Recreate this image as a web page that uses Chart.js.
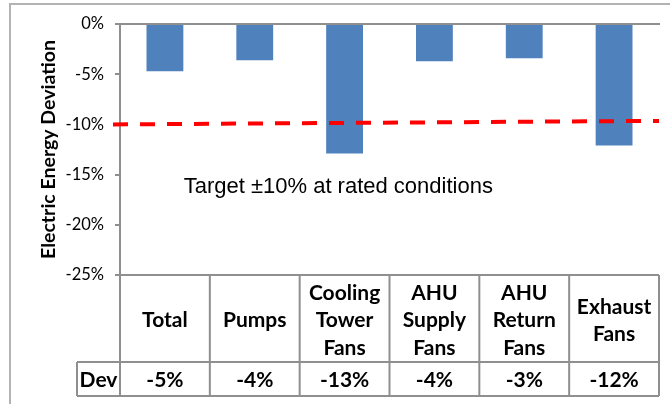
<!DOCTYPE html>
<html>
<head>
<meta charset="utf-8">
<script src="https://cdn.jsdelivr.net/npm/chart.js@4/dist/chart.umd.min.js"></script>
<style>
  html, body { margin: 0; padding: 0; background: #fff; }
  #wrap { width: 670px; height: 404px; }
</style>
</head>
<body>
<div id="wrap"><canvas id="grafico"></canvas></div>
<script>
// datos
const categorias = [['Total'], ['Pumps'], ['Cooling', 'Tower', 'Fans'], ['AHU', 'Supply', 'Fans'], ['AHU', 'Return', 'Fans'], ['Exhaust', 'Fans']];
const desviacion = [-4.7, -3.6, -12.9, -3.7, -3.4, -12.1];
const lineaObjetivo = [{ x: -0.013, y: -10.0 }, { x: 1, y: -9.65 }];
const etiquetaFila = 'Dev';
const textoObjetivo = 'Target \u00b110% at rated conditions';
const yTicks = [0, -5, -10, -15, -20, -25];

const gris = '#8f8f8f';

// marco exterior, texto del objetivo y tabla de datos
const tablaPlugin = {
    id: 'tabla',
    beforeDraw(chart) {
        const ctx = chart.ctx;
        ctx.save();
        ctx.strokeStyle = '#b3b3b3';
        ctx.lineWidth = 2;
        ctx.strokeRect(10, 4, chart.width + 20, chart.height + 20);
        ctx.restore();
    },
    afterDraw(chart) {
        const ctx = chart.ctx;
        const x = chart.scales.x;
        const x2 = chart.scales.x2;
        const y = chart.scales.y;
        const area = chart.chartArea;
        const ancho = (area.right - area.left) / categorias.length;

        // texto
        ctx.save();
        ctx.fillStyle = '#000';
        ctx.font = '22px "Liberation Sans", Arial, sans-serif';
        ctx.textAlign = 'center';
        ctx.textBaseline = 'middle';
        ctx.fillText(textoObjetivo, x2.getPixelForValue(0.405), y.getPixelForValue(-16.2));

        // tabla
        const top = area.bottom;
        const mid = top + 87;
        const bot = mid + 34;
        const devLeft = 77;
        ctx.strokeStyle = gris;
        ctx.lineWidth = 2;
        ctx.beginPath();
        ctx.moveTo(area.left, top); ctx.lineTo(area.right, top);
        ctx.moveTo(devLeft, mid); ctx.lineTo(area.right, mid);
        ctx.moveTo(devLeft, bot); ctx.lineTo(area.right, bot);
        ctx.moveTo(devLeft, mid); ctx.lineTo(devLeft, bot);
        for (let i = 0; i <= categorias.length; i++) {
            const px = i < categorias.length ? x.getPixelForValue(i) - ancho / 2 : x.getPixelForValue(i - 1) + ancho / 2;
            ctx.moveTo(px, top); ctx.lineTo(px, bot);
        }
        ctx.stroke();

        ctx.font = 'bold 21px Lato, "Open Sans", sans-serif';
        ctx.fillStyle = '#000';
        const alto = 27.5;
        categorias.forEach((lineas, i) => {
            const cx = x.getPixelForValue(i);
            const cy = (top + mid) / 2 + 2;
            lineas.forEach((t, j) => {
                ctx.fillText(t, cx, cy + (j - (lineas.length - 1) / 2) * alto);
            });
            ctx.fillText(Math.round(desviacion[i]) + '%', cx, (mid + bot) / 2 + 1);
        });
        ctx.fillText(etiquetaFila, (devLeft + area.left) / 2, (mid + bot) / 2 + 1);
        ctx.restore();
    }
};

new Chart(document.getElementById('grafico'), {
    type: 'bar',
    data: {
        labels: categorias,
        datasets: [
            { label: 'Dev', data: desviacion, backgroundColor: '#4F81BD', borderWidth: 0, barPercentage: 0.41, categoryPercentage: 1, grouped: false, order: 2 },
            { type: 'line', label: 'Target', data: lineaObjetivo, xAxisID: 'x2', borderColor: '#FF0000', borderWidth: 4, borderDash: [15, 12], pointRadius: 0, fill: false, clip: false, order: 1 }
        ]
    },
    options: {
        responsive: true,
        maintainAspectRatio: false,
        animation: false,
        events: [],
        layout: { padding: { left: 0, top: 24, right: 11, bottom: 129 } },
        plugins: { legend: { display: false }, tooltip: { enabled: false } },
        scales: {
            x: {
                position: 'top',
                ticks: { display: false },
                grid: { display: false },
                border: { display: true, color: gris, width: 2 },
                afterFit(scale) { scale.height = 0; }
            },
            x2: { type: 'linear', display: false, offset: false, min: 0, max: 1 },
            y: {
                min: -25,
                max: 0,
                afterBuildTicks(scale) { scale.ticks = yTicks.map(v => ({ value: v })); },
                afterFit(scale) { scale.width = 120; },
                ticks: {
                    callback: v => v + '%',
                    color: '#000',
                    font: { family: 'Lato, "Open Sans", sans-serif', size: 16.5 },
                    padding: 11
                },
                grid: { drawOnChartArea: false, tickLength: 5, color: gris, lineWidth: 2 },
                border: { color: gris, width: 2 },
                title: {
                    display: true,
                    text: 'Electric Energy Deviation',
                    color: '#000',
                    font: { family: 'Lato, "Open Sans", sans-serif', size: 19.5, weight: 'bold' },
                    padding: { top: 37, bottom: 0 }
                }
            }
        }
    },
    plugins: [tablaPlugin]
});
</script>
</body>
</html>
